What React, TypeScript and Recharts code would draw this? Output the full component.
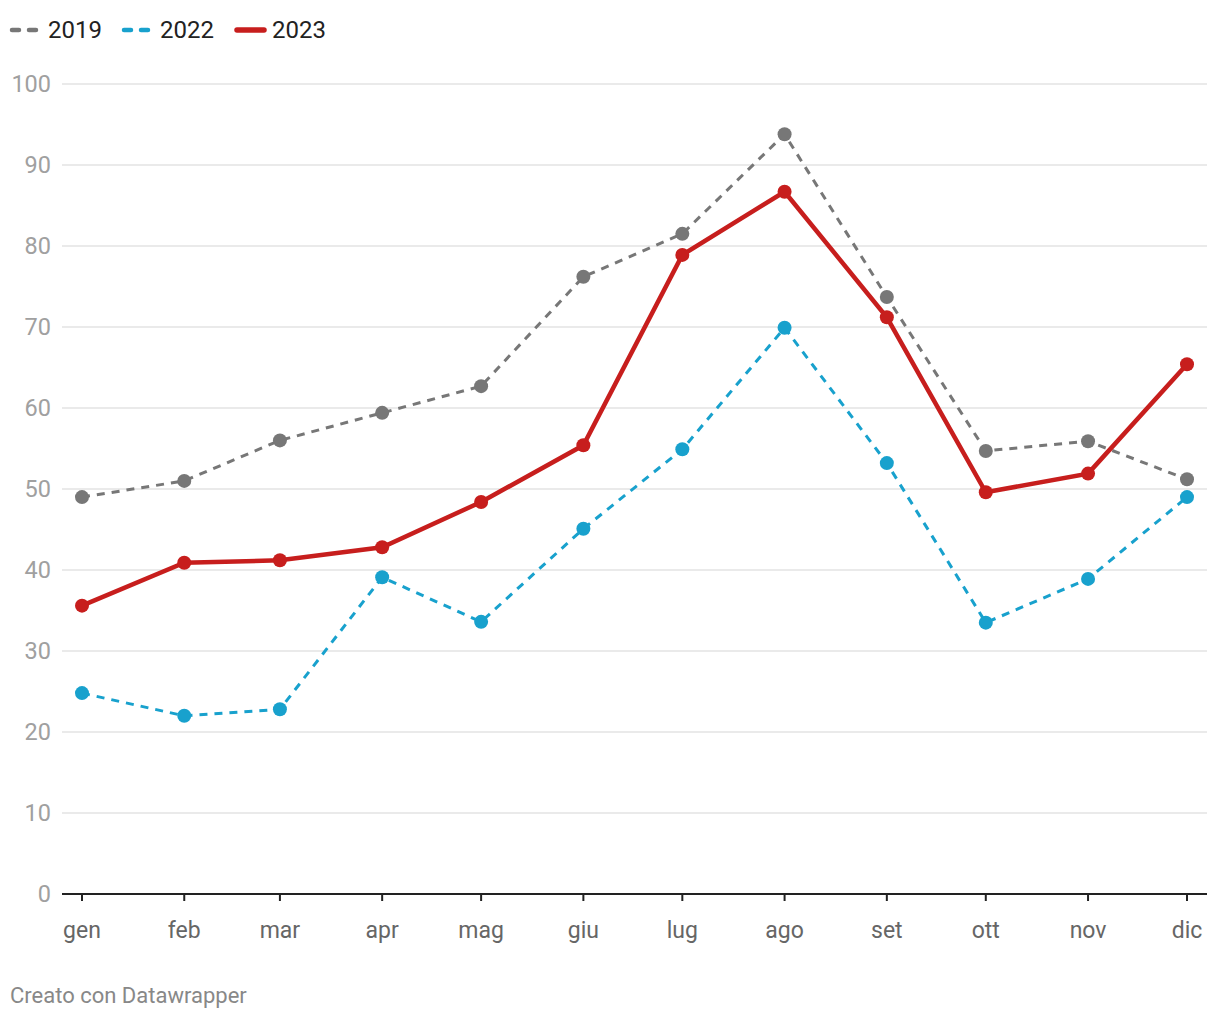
import React from 'react';
import { LineChart, Line, XAxis, YAxis, CartesianGrid } from 'recharts';

const months = ['gen', 'feb', 'mar', 'apr', 'mag', 'giu', 'lug', 'ago', 'set', 'ott', 'nov', 'dic'];
const monthStartDays = [0, 31, 60, 91, 121, 152, 182, 213, 244, 274, 305, 335];
const values2019 = [49.0, 51.0, 56.0, 59.4, 62.7, 76.2, 81.5, 93.8, 73.7, 54.7, 55.9, 51.2];
const values2022 = [24.8, 22.0, 22.8, 39.1, 33.6, 45.1, 54.9, 69.9, 53.2, 33.5, 38.9, 49.0];
const values2023 = [35.6, 40.9, 41.2, 42.8, 48.4, 55.4, 78.9, 86.7, 71.2, 49.6, 51.9, 65.4];
const yTicks = [0, 10, 20, 30, 40, 50, 60, 70, 80, 90, 100];

const series = [
  { key: 'y2019', name: '2019', color: '#777777', dashed: true },
  { key: 'y2022', name: '2022', color: '#18a1cd', dashed: true },
  { key: 'y2023', name: '2023', color: '#c71e1d', dashed: false },
];

const data = months.map((m, i) => ({
  day: monthStartDays[i],
  month: m,
  y2019: values2019[i],
  y2022: values2022[i],
  y2023: values2023[i],
}));

const FONT = 'Roboto, "Noto Sans", sans-serif';

function LegendBar() {
  const symbolLefts = [8, 120, 233];
  const textLefts = [48, 160, 272];
  return (
    <div style={{ position: 'absolute', left: 0, top: 12, height: 36, width: 600 }}>
      {series.map((s, i) => (
        <React.Fragment key={s.key}>
          <svg width={36} height={12} style={{ position: 'absolute', left: symbolLefts[i], top: 12 }}>
            {s.dashed ? (
              <line x1={4} y1={6} x2={28} y2={6} stroke={s.color} strokeWidth={4.5} strokeDasharray="7 10" strokeLinecap="round" />
            ) : (
              <line x1={4} y1={6} x2={31} y2={6} stroke={s.color} strokeWidth={5.5} strokeLinecap="round" />
            )}
          </svg>
          <span
            style={{
              position: 'absolute',
              left: textLefts[i],
              top: 0,
              lineHeight: '36px',
              fontFamily: FONT,
              fontSize: 24,
              color: '#222',
              whiteSpace: 'nowrap',
            }}
          >
            {s.name}
          </span>
        </React.Fragment>
      ))}
    </div>
  );
}

export default function App() {
  return (
    <div style={{ position: 'absolute', left: 0, top: 0, width: 1220, height: 1020, background: '#fff', fontFamily: FONT }}>
      <LegendBar />
      <LineChart
        width={1220}
        height={1020}
        data={data}
        margin={{ top: 84, right: 13, left: 0, bottom: 66 }}
      >
        <CartesianGrid horizontal vertical={false} stroke="#e3e3e3" strokeWidth={1.5} />
        <XAxis
          dataKey="day"
          type="number"
          domain={[0, 335]}
          ticks={monthStartDays}
          tickFormatter={(v: number) => months[monthStartDays.indexOf(v)]}
          padding={{ left: 20, right: 20 }}
          height={60}
          axisLine={{ stroke: '#222', strokeWidth: 2 }}
          tickLine={{ stroke: '#222', strokeWidth: 2 }}
          tickSize={7}
          tickMargin={21}
          tick={{ fill: '#666', fontSize: 23, fontFamily: FONT }}
          interval={0}
        />
        <YAxis
          domain={[0, 100]}
          ticks={yTicks}
          width={62}
          axisLine={false}
          tickLine={false}
          tickMargin={5}
          tick={{ fill: '#a0a0a0', fontSize: 23.5, fontFamily: FONT }}
          interval={0}
        />
        {series.map((s) => (
          <Line
            key={s.key}
            type="linear"
            dataKey={s.key}
            name={s.name}
            stroke={s.color}
            strokeWidth={s.dashed ? 3 : 4.5}
            strokeDasharray={s.dashed ? '8 7' : undefined}
            dot={{ r: 7, fill: s.color, stroke: 'none', strokeWidth: 0, strokeDasharray: '' }}
            activeDot={false}
            isAnimationActive={false}
          />
        ))}
      </LineChart>
      <div
        style={{ position: 'absolute', left: 10, top: 983, fontFamily: FONT, fontSize: 22, color: '#888', whiteSpace: 'nowrap' }}
      >
        Creato con Datawrapper
      </div>
    </div>
  );
}
